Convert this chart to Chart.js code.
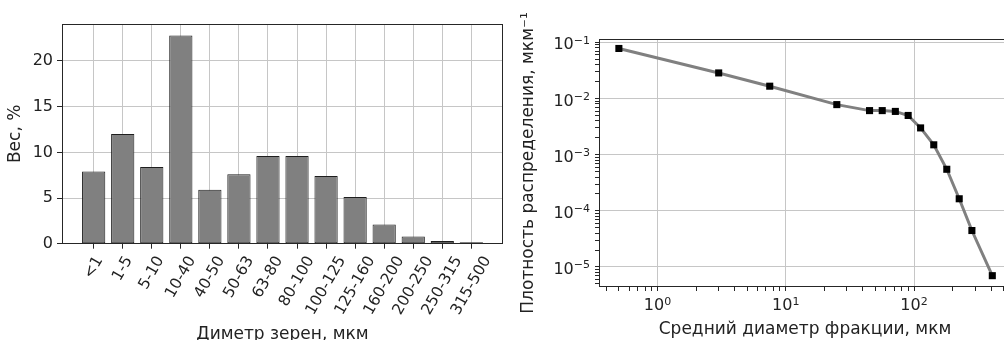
<!DOCTYPE html>
<html>
<head>
<meta charset="utf-8">
<script src="https://cdn.jsdelivr.net/npm/chart.js@4.4.1/dist/chart.umd.min.js"></script>
<style>
  html, body { margin: 0; padding: 0; background: #fff; overflow: hidden; width: 1004px; height: 340px; }
  #weight-chart { position: absolute; left: 0; top: 0; }
  #density-chart { position: absolute; left: 505px; top: 0; }
</style>
</head>
<body>
<canvas id="weight-chart" width="510" height="350"></canvas>
<canvas id="density-chart" width="520" height="350"></canvas>
<script>
(function () {
  'use strict';

  // fractions of grain size, mkm
  const categories = ['<1', '1-5', '5-10', '10-40', '40-50', '50-63', '63-80', '80-100',
    '100-125', '125-160', '160-200', '200-250', '250-315', '315-500'];
  const weightPct = [7.9, 12.0, 8.4, 22.8, 5.9, 7.6, 9.6, 9.6, 7.4, 5.1, 2.1, 0.8, 0.3, 0.15];
  const weightTicks = [0, 5, 10, 15, 20];

  // mean diameter of each fraction and distribution density
  const meanDiameter = [0.5, 3, 7.5, 25, 45, 56.5, 71.5, 90, 112.5, 142.5, 180, 225, 282.5, 407.5];
  const density = [0.078, 0.0286, 0.0166, 0.0078, 0.0061, 0.0061, 0.0059, 0.005,
    0.003, 0.0015, 0.00055, 0.000164, 0.0000446, 0.000007];
  const diameterDecades = [0, 1, 2];
  const densityDecades = [-1, -2, -3, -4, -5];

  const FONT = '"DejaVu Sans", sans-serif';
  Chart.defaults.font.family = FONT;
  Chart.defaults.font.size = 16;
  Chart.defaults.color = '#222';

  const GRID = '#c6c6c6';
  const AXIS = '#262626';
  const TITLE_FONT = { size: 17 };

  function isDecade(v) {
    const e = Math.round(Math.log10(v));
    return Math.abs(v / Math.pow(10, e) - 1) < 1e-9;
  }

  // tick positions 1..9 x 10^e inside [min, max]
  function logTicks(min, max) {
    const out = [];
    for (let e = Math.floor(Math.log10(min)); e <= Math.ceil(Math.log10(max)); e++) {
      for (let k = 1; k < 10; k++) {
        const v = k * Math.pow(10, e);
        if (v >= min && v <= max) out.push({ value: v, major: k === 1 });
      }
    }
    return out;
  }

  const frame = {
    id: 'frame',
    afterDatasetsDraw(chart) {
      const a = chart.chartArea;
      const ctx = chart.ctx;
      ctx.save();
      ctx.strokeStyle = AXIS;
      ctx.lineWidth = 1;
      ctx.strokeRect(Math.round(a.left) + 0.5, Math.round(a.top) + 0.5,
        Math.round(a.right - a.left) - 1, Math.round(a.bottom - a.top) - 1);
      ctx.restore();
    }
  };

  // rotated labels centred under each bar
  const xTickLabels = {
    id: 'xTickLabels',
    afterDraw(chart) {
      const sx = chart.scales.x;
      const ctx = chart.ctx;
      const ang = 60 * Math.PI / 180;
      const h = 18;
      ctx.save();
      ctx.font = '15.5px ' + FONT;
      ctx.fillStyle = '#222';
      ctx.textAlign = 'center';
      ctx.textBaseline = 'middle';
      categories.forEach((label, i) => {
        const w = ctx.measureText(label).width;
        const x = sx.getPixelForValue(i);
        const y = sx.top + 9.5 + (w * Math.sin(ang) + h * Math.cos(ang)) / 2;
        ctx.save();
        ctx.translate(x, y);
        ctx.rotate(-ang);
        ctx.fillText(label, 0, 0);
        ctx.restore();
      });
      ctx.restore();
    }
  };

  // 10^n labels with a raised, smaller exponent
  const powerLabels = {
    id: 'powerLabels',
    afterDraw(chart) {
      const ctx = chart.ctx;
      const sx = chart.scales.x;
      const sy = chart.scales.y;
      const draw = (e, ax, baseY, align) => {
        const exp = String(e).replace('-', '\u2212');
        ctx.font = '16px ' + FONT;
        const wm = ctx.measureText('10').width;
        ctx.font = '11px ' + FONT;
        const we = ctx.measureText(exp).width;
        const x0 = align === 'center' ? ax - (wm + we) / 2 : ax - (wm + we);
        ctx.font = '16px ' + FONT;
        ctx.fillText('10', x0, baseY);
        ctx.font = '11px ' + FONT;
        ctx.fillText(exp, x0 + wm, baseY - 5.5);
      };
      ctx.save();
      ctx.fillStyle = '#222';
      ctx.textAlign = 'left';
      ctx.textBaseline = 'alphabetic';
      diameterDecades.forEach(e => draw(e, sx.getPixelForValue(Math.pow(10, e)), sx.top + 23, 'center'));
      densityDecades.forEach(e => draw(e, sy.right - 9, sy.getPixelForValue(Math.pow(10, e)) + 7, 'right'));
      ctx.restore();
    }
  };

  new Chart(document.getElementById('weight-chart'), {
    type: 'bar',
    data: {
      datasets: [{
        data: weightPct.map((v, i) => ({ x: i, y: v })),
        backgroundColor: '#808080',
        borderColor: '#1e1e1e',
        borderWidth: 1,
        borderSkipped: false,
        barPercentage: 0.8,
        categoryPercentage: 1
      }]
    },
    options: {
      responsive: false,
      animation: false,
      devicePixelRatio: 1,
      layout: { padding: { top: 24, right: 7, left: 0, bottom: 0 } },
      plugins: { legend: { display: false }, tooltip: { enabled: false } },
      scales: {
        x: {
          type: 'linear',
          min: -1.09,
          max: 14.09,
          offset: false,
          afterBuildTicks: axis => { axis.ticks = categories.map((c, i) => ({ value: i })); },
          afterFit: axis => { axis.height = 106.3; },
          grid: { color: GRID, offset: false, tickColor: AXIS, tickLength: 5 },
          border: { display: false },
          ticks: { display: false },
          title: { display: true, text: 'Диметр зерен, мкм', font: TITLE_FONT, padding: { top: 0, bottom: 5 } }
        },
        y: {
          min: 0,
          max: 24.05,
          afterBuildTicks: axis => { axis.ticks = weightTicks.map(v => ({ value: v })); },
          afterFit: axis => { axis.width = 62; },
          grid: { color: GRID, tickColor: AXIS, tickLength: 5 },
          border: { display: false },
          ticks: { padding: 4 },
          title: { display: true, text: 'Вес, %', font: TITLE_FONT, padding: { top: 5.8, bottom: 0 } }
        }
      }
    },
    plugins: [frame, xTickLabels]
  });

  const logGrid = {
    color: ctx => (ctx.tick && isDecade(ctx.tick.value) ? GRID : 'rgba(0,0,0,0)'),
    tickColor: AXIS,
    tickLength: 4
  };

  new Chart(document.getElementById('density-chart'), {
    type: 'line',
    data: {
      datasets: [{
        data: meanDiameter.map((x, i) => ({ x: x, y: density[i] })),
        borderColor: '#808080',
        borderWidth: 3,
        tension: 0,
        fill: false,
        pointStyle: 'rect',
        pointRadius: 5,
        pointBackgroundColor: '#000',
        pointBorderColor: '#000',
        pointBorderWidth: 0
      }]
    },
    options: {
      responsive: false,
      animation: false,
      devicePixelRatio: 1,
      layout: { padding: { top: 39, right: 14, left: 0, bottom: 0 } },
      plugins: { legend: { display: false }, tooltip: { enabled: false } },
      scales: {
        x: {
          type: 'logarithmic',
          min: 0.35,
          max: 570,
          afterBuildTicks: axis => { axis.ticks = logTicks(0.35, 570); },
          afterFit: axis => { axis.height = 63; },
          grid: logGrid,
          border: { display: false },
          ticks: { display: false, autoSkip: false },
          title: { display: true, text: 'Средний диаметр фракции, мкм', font: TITLE_FONT, padding: { top: 0, bottom: 10.7 } }
        },
        y: {
          type: 'logarithmic',
          min: 4.4e-6,
          max: 0.115,
          afterBuildTicks: axis => { axis.ticks = logTicks(4.4e-6, 0.115); },
          afterFit: axis => { axis.width = 94; },
          grid: logGrid,
          border: { display: false },
          ticks: { display: false, autoSkip: false },
          title: { display: true, text: 'Плотность распределения, мкм\u207B\u00B9', font: TITLE_FONT, padding: { top: 13.8, bottom: 0 } }
        }
      }
    },
    plugins: [frame, powerLabels]
  });
})();
</script>
</body>
</html>
